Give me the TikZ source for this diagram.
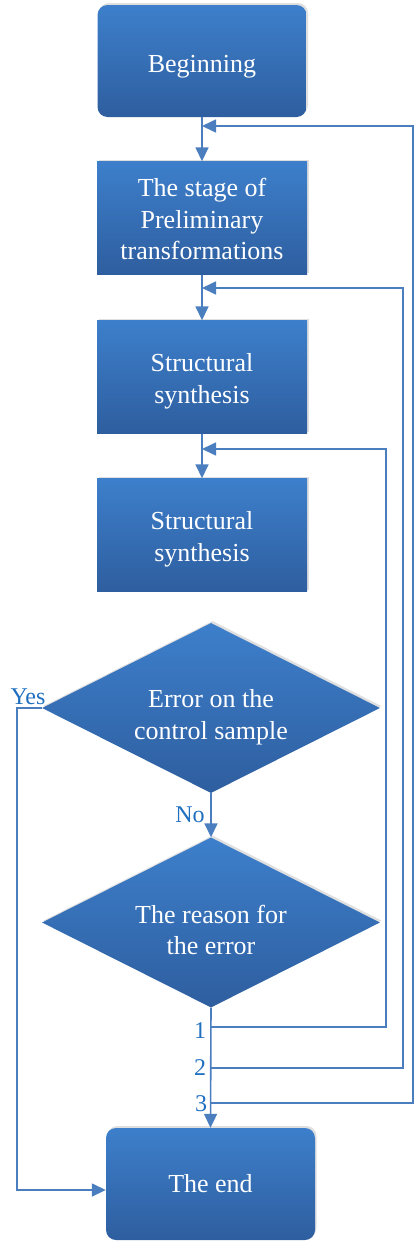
\documentclass[tikz,border=0pt]{standalone}
\usepackage{fontspec}
\setmainfont{Liberation Serif}
\usetikzlibrary{shapes.geometric,arrows.meta,shadows}
\definecolor{boxtop}{HTML}{3D7FCB}
\definecolor{boxbot}{HTML}{2E5E9F}
\definecolor{linec}{HTML}{4A7EBF}
\definecolor{labc}{HTML}{1F6FBF}
\newcommand{\dnshift}[2]{\raisebox{-#1}[\height][\depth]{\begin{tabular}{@{}c@{}}#2\end{tabular}}}
\tikzset{
  boxbase/.style={top color=boxtop, bottom color=boxbot, draw=none, text=white,
    align=center, font=\fontsize{26}{31.5}\selectfont, inner sep=0pt,
    drop shadow={opacity=0.25, shadow xshift=1.5pt, shadow yshift=2pt}},
  procbox/.style={boxbase, rectangle, minimum width=210pt, minimum height=113pt},
  termbox/.style={boxbase, rectangle, rounded corners=10pt, minimum width=209pt, minimum height=112pt},
  decbox/.style={boxbase, diamond, aspect=2, minimum width=338pt, minimum height=170pt},
  conn/.style={draw=linec, line width=1.6pt, -{Triangle[length=14pt,width=13pt]}},
  lab/.style={text=labc, font=\fontsize{24}{28}\selectfont, inner sep=0pt}
}
\begin{document}
\begin{tikzpicture}[x=1pt,y=-1pt]
\useasboundingbox (0,0) rectangle (415,1245);
\node[termbox] (begin) at (202,61) {\dnshift{5pt}{Beginning}};
\node[procbox] (stage) at (202,218) {\dnshift{4pt}{The stage of\\Preliminary\\transformations}};
\node[procbox] (s1) at (202,377) {\dnshift{4pt}{Structural\\synthesis}};
\node[procbox] (s2) at (202,535) {\dnshift{4pt}{Structural\\synthesis}};
\node[decbox] (d1) at (211,708) {\dnshift{9pt}{Error on the\\control sample}};
\node[decbox] (d2) at (211,922.5) {\dnshift{10pt}{The reason for\\the error}};
\node[termbox] (endn) at (210.5,1184) {\dnshift{2pt}{The end}};

\draw[conn] (begin.south) -- (stage.north);
\draw[conn] (stage.south) -- (s1.north);
\draw[conn] (s1.south) -- (s2.north);
\draw[conn] (d1.south) -- (d2.north);
\draw[conn] (d2.south) -- (endn.north);

\coordinate (p1) at (211,1027);
\coordinate (p2) at (211,1068);
\coordinate (p3) at (211,1103);
\coordinate (t1) at (202,449);
\coordinate (t2) at (202,288);
\coordinate (t3) at (202,126);
\coordinate (yb) at (17,1190);

\draw[conn] (p1) -- (386,1027) -- (386,449) -- (t1);
\draw[conn] (p2) -- (403,1068) -- (403,288) -- (t2);
\draw[conn] (p3) -- (413,1103) -- (413,126) -- (t3);
\draw[conn] (d1.west) -- (17,708) -- (yb) -- (yb -| endn.west);

\node[lab] (yes) at (28,697) {Yes};
\node[lab] (no) at (190,815) {No};
\node[lab] (l1) at (200,1031) {1};
\node[lab] (l2) at (200,1068) {2};
\node[lab] (l3) at (201,1104) {3};
\end{tikzpicture}
\end{document}
